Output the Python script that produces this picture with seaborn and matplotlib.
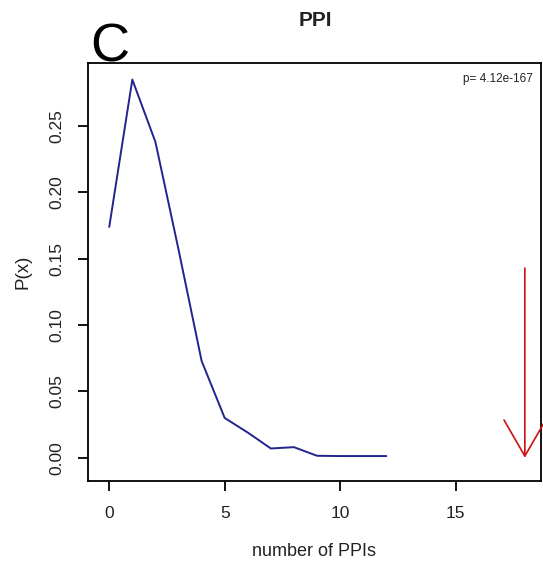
import matplotlib
matplotlib.use("Agg")
import matplotlib.pyplot as plt
import seaborn as sns
import pandas as pd

# Data
n_ppis = [0, 1, 2, 3, 4, 5, 6, 7, 8, 9, 10, 11, 12]
p_x = [0.174, 0.285, 0.238, 0.157, 0.073, 0.030, 0.019, 0.007, 0.008, 0.0015, 0.0013, 0.0013, 0.0013]
observed_x = 18
arrow_top = 0.143
x_ticks = [0, 5, 10, 15]
y_ticks = [0.00, 0.05, 0.10, 0.15, 0.20, 0.25]
title = "PPI"
panel_label = "C"
p_text = "p= 4.12e-167"

sns.set_style("white")
plt.rcParams["font.family"] = ["Liberation Sans", "DejaVu Sans"]

df = pd.DataFrame({"x": n_ppis, "y": p_x})

fig = plt.figure(figsize=(5.43, 5.68), dpi=100)
ax = fig.add_axes([88 / 543, 1 - 481 / 568, (541 - 88) / 543, (481 - 63) / 568])

sns.lineplot(data=df, x="x", y="y", ax=ax, color="#23238e", linewidth=1.4)

ax.set_xlim(-0.92, 18.7)
ax.set_ylim(-0.0175, 0.2975)
ax.set_xticks(x_ticks)
ax.set_xticklabels([str(t) for t in x_ticks])
ax.set_yticks(y_ticks)
ax.set_yticklabels([f"{t:.2f}" for t in y_ticks], rotation=90, va="center")

for s in ax.spines.values():
    s.set_visible(True)
    s.set_color("black")
    s.set_linewidth(1.3)

ax.tick_params(axis="both", direction="out", length=7, width=1.3, colors="black",
               labelsize=12.5, labelcolor="#222222", bottom=True, left=True)
ax.tick_params(axis="x", pad=11)
ax.tick_params(axis="y", pad=10)

ax.set_xlabel("number of PPIs", fontsize=13, color="#222222", labelpad=16)
ax.set_ylabel("P(x)", fontsize=13.5, color="#222222", labelpad=13)

# Observed value arrow
ax.annotate("", xy=(observed_x, 0.0), xytext=(observed_x, arrow_top),
            arrowprops=dict(arrowstyle="->,head_length=2.6,head_width=1.5",
                            color="#cc1111", linewidth=1.2, mutation_scale=10,
                            shrinkA=0, shrinkB=0))

ax.text((533 - 88) / (541 - 88), (481 - 79) / 418, p_text, transform=ax.transAxes,
        ha="right", va="center", fontsize=8.5, color="#222222")

fig.text(315 / 543, 1 - 21 / 568, title, ha="center", va="center",
         fontsize=15, fontweight="bold", color="#222222")
fig.text(110 / 543, 1 - 48 / 568, panel_label, ha="center", va="center",
         fontsize=39, color="black")

fig.savefig("out.png", dpi=100)
